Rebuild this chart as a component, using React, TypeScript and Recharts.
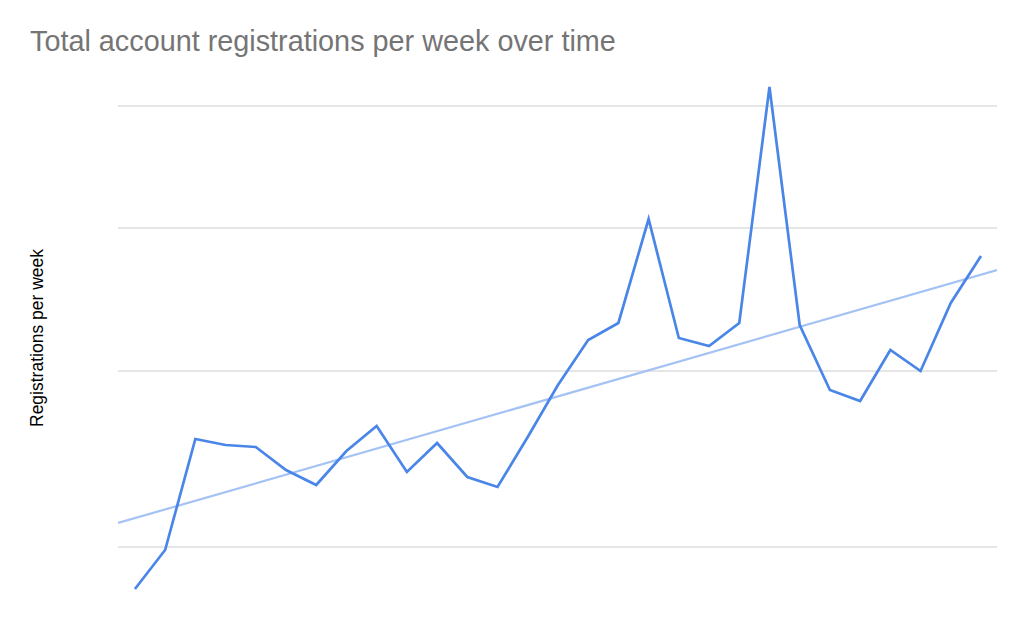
import { LineChart, Line, XAxis, YAxis, ReferenceLine } from "recharts";

// week index 1..29, registrations (arbitrary units)
const weeks = [1, 2, 3, 4, 5, 6, 7, 8, 9, 10, 11, 12, 13, 14, 15, 16, 17, 18, 19, 20, 21, 22, 23, 24, 25, 26, 27, 28, 29];
const registrations = [31, 70, 181, 175, 173, 150, 135, 169, 194, 148, 177, 143, 133, 183, 235, 280, 297, 401, 282, 274, 297, 533, 295, 230, 219, 270, 249, 317, 364];

// linear trend, endpoints read at the plot edges
const trendX = [0.44, 29.53];
const trendY = [97, 350];

const gridTicks = [73, 249, 392, 514];

const data = weeks.map((w, i) => ({ week: w, value: registrations[i] }));
const trendData = trendX.map((x, i) => ({ week: x, trend: trendY[i] }));

export default function App() {
  return (
    <div style={{ position: "absolute", left: 0, top: 0, width: 1024, height: 624, background: "#fff", fontFamily: "'Liberation Sans', Arial, sans-serif" }}>
      <div style={{ position: "absolute", left: 30, top: 25, fontSize: 28.8, color: "#757575", whiteSpace: "nowrap" }}>
        Total account registrations per week over time
      </div>
      <div
        style={{
          position: "absolute",
          left: 37,
          top: 338,
          transform: "translate(-50%, -50%) rotate(-90deg)",
          fontSize: 17.5,
          color: "#000",
          whiteSpace: "nowrap",
        }}
      >
        Registrations per week
      </div>
      <div style={{ position: "absolute", left: 0, top: 0 }}>
        <LineChart width={1024} height={624} margin={{ top: 60, right: 27, bottom: 4, left: 118 }}>
          <XAxis dataKey="week" type="number" domain={[0.44, 29.53]} hide allowDataOverflow />
          <YAxis type="number" domain={[0, 560]} ticks={gridTicks} hide width={0} />
          {gridTicks.map((t) => (
            <ReferenceLine key={t} y={t} stroke="#cccccc" strokeWidth={1} />
          ))}
          <Line
            data={trendData}
            dataKey="trend"
            stroke="#a4c2f4"
            strokeWidth={2.2}
            dot={false}
            isAnimationActive={false}
          />
          <Line
            data={data}
            dataKey="value"
            stroke="#4a86e8"
            strokeWidth={2.7}
            dot={false}
            isAnimationActive={false}
          />
        </LineChart>
      </div>
    </div>
  );
}
